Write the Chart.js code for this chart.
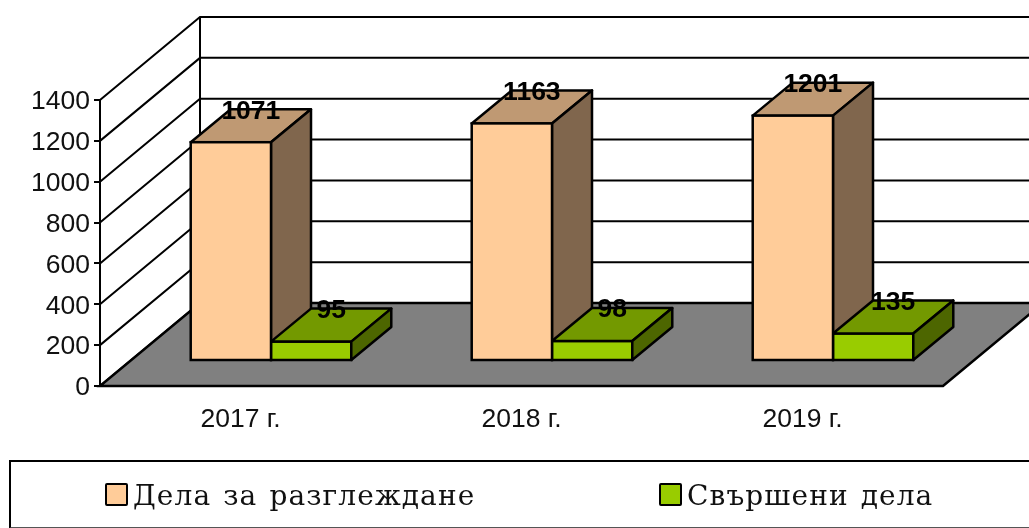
<!DOCTYPE html>
<html>
<head>
<meta charset="utf-8">
<script src="https://cdn.jsdelivr.net/npm/chart.js@4"></script>
<style>
    html, body { margin: 0; padding: 0; background: #fff; overflow: hidden; }
    #wrap { position: relative; width: 1029px; height: 528px; overflow: hidden; }
    #chart { position: absolute; left: 0; top: 0; }
    #legend {
        position: absolute; left: 9px; top: 460px; width: 1040px; height: 65px;
        border: 2px solid #000; border-bottom-color: #555;
        font: 28px "DejaVu Serif", serif; letter-spacing: 1.1px; word-spacing: 2px; color: #111;
    }
    .item { position: absolute; top: 0; line-height: 67px; white-space: nowrap; }
    .swatch {
        display: inline-block; width: 19px; height: 19px; border: 2px solid #000;
        border-radius: 2px; margin-right: 5px; vertical-align: -1px;
    }
</style>
</head>
<body>
<div id="wrap">
    <canvas id="chart" width="1029" height="528"></canvas>
    <div id="legend"></div>
</div>
<script>
const categories = ["2017 г.", "2018 г.", "2019 г."];
const seriesNames = ["Дела за разглеждане", "Свършени дела"];
const caseValues = [1071, 1163, 1201];
const doneValues = [95, 98, 135];
const yTicks = [0, 200, 400, 600, 800, 1000, 1200, 1400];

const frontColors = ["#FFCC99", "#99CC00"];
const topColors = ["#BF9973", "#739900"];
const sideColors = ["#80664D", "#4D6600"];
const legendLeft = [94, 648];

// how far the bars sit behind the axis plane, and how deep they and the room are
const BAR_SHIFT = { x: 30.5, y: -25 };
const BAR_DEPTH = { x: 40, y: -33 };
const ROOM_DEPTH = { x: 100, y: -83 };

function poly(ctx, pts, fill) {
    ctx.beginPath();
    pts.forEach((p, i) => i ? ctx.lineTo(p[0], p[1]) : ctx.moveTo(p[0], p[1]));
    ctx.closePath();
    if (fill) {
        ctx.fillStyle = fill;
        ctx.fill();
    }
    ctx.stroke();
}

function drawFaces(chart, index) {
    const ctx = chart.ctx;
    const d = BAR_DEPTH;
    ctx.save();
    ctx.translate(BAR_SHIFT.x, BAR_SHIFT.y);
    ctx.strokeStyle = "#000";
    ctx.lineWidth = 2.5;
    ctx.lineJoin = "round";
    chart.getDatasetMeta(index).data.forEach(bar => {
        const l = bar.x - bar.width / 2;
        const r = bar.x + bar.width / 2;
        poly(ctx, [[l, bar.y], [r, bar.y], [r + d.x, bar.y + d.y], [l + d.x, bar.y + d.y]], topColors[index]);
        poly(ctx, [[r, bar.y], [r + d.x, bar.y + d.y], [r + d.x, bar.base + d.y], [r, bar.base]], sideColors[index]);
    });
    ctx.restore();
}

const room3d = {
    id: "room3d",
    beforeDatasetsDraw(chart) {
        const { ctx, chartArea, scales } = chart;
        const d = ROOM_DEPTH;
        const y0 = scales.y.getPixelForValue(0);
        const yMax = scales.y.getPixelForValue(yTicks[yTicks.length - 1]);
        ctx.save();
        ctx.strokeStyle = "#000";
        ctx.lineWidth = 2;

        // wall lines and the slanted lines on the left side
        yTicks.forEach(v => {
            const y = scales.y.getPixelForValue(v);
            ctx.beginPath();
            ctx.moveTo(chartArea.left, y);
            ctx.lineTo(chartArea.left + d.x, y + d.y);
            ctx.lineTo(chart.width, y + d.y);
            ctx.stroke();
        });
        ctx.beginPath();
        ctx.moveTo(chartArea.left + d.x, yMax + d.y);
        ctx.lineTo(chartArea.left + d.x, y0 + d.y);
        ctx.stroke();

        // floor
        ctx.lineWidth = 2.5;
        poly(ctx, [
            [chartArea.left, y0],
            [chartArea.right, y0],
            [chartArea.right + d.x, y0 + d.y],
            [chartArea.left + d.x, y0 + d.y]
        ], "#808080");
        ctx.restore();

        // the first series is drawn last, its depth has to go under the second one
        drawFaces(chart, 0);
    },
    beforeDatasetDraw(chart) {
        chart.ctx.save();
        chart.ctx.translate(BAR_SHIFT.x, BAR_SHIFT.y);
    },
    afterDatasetDraw(chart, args) {
        const ctx = chart.ctx;
        // chart.js insets bar borders, so the front outline is stroked here to meet the faces
        ctx.strokeStyle = "#000";
        ctx.lineWidth = 2.5;
        args.meta.data.forEach(bar => {
            ctx.strokeRect(bar.x - bar.width / 2, bar.y, bar.width, bar.base - bar.y);
        });
        ctx.restore();
        if (args.index === 1) drawFaces(chart, 1);
    },
    afterDatasetsDraw(chart) {
        const ctx = chart.ctx;
        ctx.save();
        ctx.fillStyle = "#000";
        ctx.font = 'bold 26.5px "Liberation Sans", sans-serif';
        ctx.textAlign = "center";
        ctx.textBaseline = "middle";
        chart.data.datasets.forEach((ds, i) => {
            chart.getDatasetMeta(i).data.forEach((bar, j) => {
                ctx.fillText(ds.data[j], bar.x + BAR_SHIFT.x + 20, bar.y + BAR_SHIFT.y - 31);
            });
        });
        ctx.restore();
    }
};

const chart = new Chart(document.getElementById("chart"), {
    type: "bar",
    data: {
        labels: categories,
        datasets: [
            { label: seriesNames[0], data: caseValues, backgroundColor: frontColors[0] },
            { label: seriesNames[1], data: doneValues, backgroundColor: frontColors[1] }
        ].map(ds => ({
            ...ds,
            borderWidth: 0,
            categoryPercentage: 0.5714,
            barPercentage: 1
        }))
    },
    options: {
        responsive: false,
        animation: false,
        layout: { padding: { top: 100, right: 86, left: 0, bottom: 0 } },
        plugins: {
            legend: { display: false },
            tooltip: { enabled: false }
        },
        scales: {
            x: {
                afterFit: s => { s.height = 142; },
                grid: { display: false },
                border: { display: false },
                ticks: {
                    color: "#111",
                    padding: 10,
                    maxRotation: 0,
                    font: { family: "Liberation Sans", size: 26.5 }
                }
            },
            y: {
                min: 0,
                max: 1400,
                afterFit: s => { s.width = 100; },
                grid: { drawOnChartArea: false, color: "#000", lineWidth: 2, tickLength: 6 },
                border: { color: "#000", width: 2 },
                ticks: {
                    stepSize: 200,
                    color: "#111",
                    padding: 4,
                    labelOffset: 2,
                    callback: v => String(v),
                    font: { family: "Liberation Sans", size: 26.5 }
                }
            }
        }
    },
    plugins: [room3d]
});

// legend sits under the chart in its own box
const legendBox = document.getElementById("legend");
chart.data.datasets.forEach((ds, i) => {
    legendBox.innerHTML += `
        <span class="item" style="left:${legendLeft[i]}px">
            <span class="swatch" style="background:${ds.backgroundColor}"></span>${ds.label}
        </span>
    `;
});
</script>
</body>
</html>
